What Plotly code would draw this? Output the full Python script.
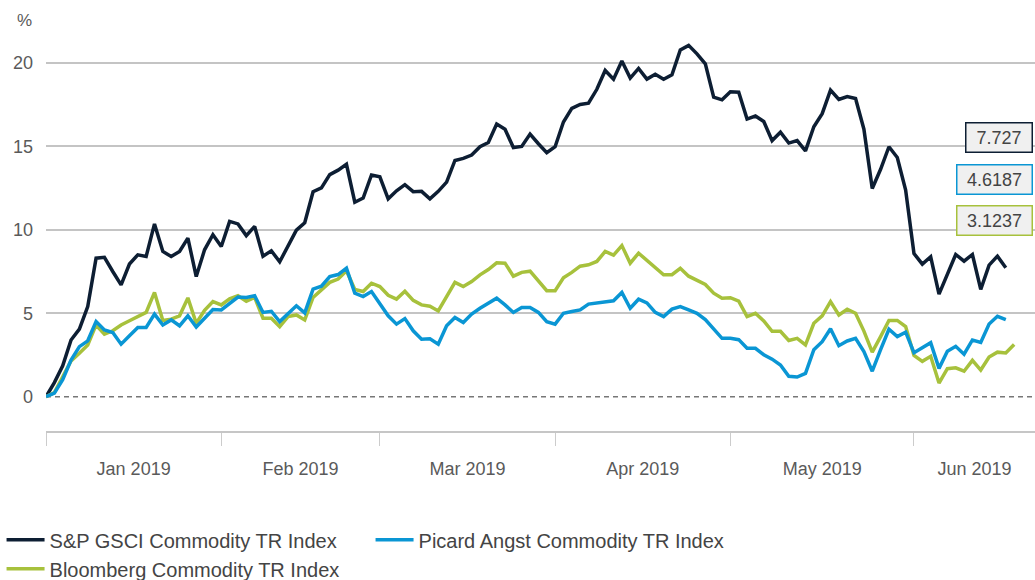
import pandas as pd
import plotly.graph_objects as go

# ---------------- data ----------------
us_holidays = ["2019-01-21", "2019-02-18", "2019-04-19", "2019-05-27"]
dates = pd.bdate_range("2019-01-02", periods=117, freq="C", holidays=us_holidays)

sp_gsci = [0, 0.85, 1.85, 3.4, 4.05, 5.4, 8.3, 8.35, 7.5, 6.7, 7.95, 8.5, 8.4, 10.35, 8.7, 8.4, 8.7, 9.5, 7.2, 8.8,
           9.7, 9.0, 10.5, 10.35, 9.65, 10.2, 8.42, 8.74, 8.08, 8.98, 9.98, 10.42, 12.28, 12.51, 13.3, 13.57, 13.92,
           11.65, 11.9, 13.28, 13.17, 11.85, 12.33, 12.7, 12.28, 12.3, 11.85, 12.3, 12.85, 14.15, 14.27, 14.47, 14.97,
           15.22, 16.33, 16.02, 14.92, 14.99, 15.73, 15.15, 14.62, 14.97, 16.45, 17.27, 17.5, 17.58, 18.41, 19.54,
           19.02, 20.1, 19.08, 19.66, 19.02, 19.31, 19.01, 19.28, 20.76, 21.04, 20.53, 19.93, 17.94, 17.78, 18.26,
           18.24, 16.63, 16.81, 16.48, 15.34, 15.84, 15.19, 15.34, 14.72, 16.17, 16.95, 18.36, 17.8, 17.98, 17.86,
           16.02, 12.47, 13.62, 14.97, 14.33, 12.38, 8.58, 7.94, 8.38, 6.15, 7.39, 8.52, 8.12, 8.52, 6.43, 7.88,
           8.42, 7.727]

picard = [0, 0.22, 1.02, 2.2, 3.0, 3.35, 4.5, 4.0, 3.85, 3.15, 3.65, 4.15, 4.15, 4.95, 4.3, 4.6, 4.25, 4.85, 4.18,
          4.7, 5.22, 5.2, 5.6, 5.97, 5.95, 6.05, 5.05, 5.12, 4.5, 5.0, 5.45, 5.02, 6.45, 6.62, 7.2, 7.32, 7.7, 6.2,
          6.0, 6.3, 5.6, 4.85, 4.35, 4.68, 3.95, 3.45, 3.47, 3.15, 4.25, 4.75, 4.45, 4.95, 5.3, 5.6, 5.9, 5.5, 5.05,
          5.35, 5.35, 5.05, 4.5, 4.35, 5.0, 5.1, 5.2, 5.55, 5.6, 5.7, 5.75, 6.25, 5.3, 5.84, 5.62, 5.05, 4.8, 5.25,
          5.4, 5.2, 5.0, 4.62, 4.08, 3.5, 3.5, 3.42, 2.9, 2.9, 2.52, 2.25, 1.9, 1.23, 1.18, 1.4, 2.82, 3.3, 4.07,
          3.06, 3.34, 3.5, 2.7, 1.53, 2.82, 4.04, 3.6, 3.87, 2.64, 2.92, 3.24, 1.7, 2.72, 3.02, 2.55, 3.4, 3.25,
          4.36, 4.82, 4.6187]

bloomberg = [0, 0.25, 1.2, 2.15, 2.6, 3.1, 4.3, 3.75, 3.95, 4.3, 4.55, 4.8, 5.05, 6.25, 4.57, 4.65, 4.85, 5.92,
             4.4, 5.18, 5.7, 5.5, 5.87, 6.05, 5.72, 5.95, 4.7, 4.7, 4.2, 4.8, 4.9, 4.6, 5.95, 6.4, 6.85, 7.05, 7.55,
             6.42, 6.3, 6.8, 6.6, 6.08, 5.85, 6.32, 5.77, 5.5, 5.42, 5.14, 5.95, 6.85, 6.6, 6.9, 7.3, 7.62, 8.02,
             8.0, 7.22, 7.45, 7.52, 6.95, 6.35, 6.35, 7.12, 7.45, 7.82, 7.9, 8.1, 8.7, 8.48, 9.05, 8.0, 8.6, 8.15,
             7.7, 7.3, 7.31, 7.69, 7.22, 6.97, 6.72, 6.2, 5.9, 5.93, 5.72, 4.8, 5.0, 4.54, 3.92, 3.92, 3.37, 3.5,
             3.1, 4.4, 4.85, 5.7, 4.9, 5.24, 5.0, 3.93, 2.67, 3.6, 4.57, 4.57, 4.2, 2.48, 2.12, 2.42, 0.82, 1.68,
             1.73, 1.53, 2.18, 1.6, 2.38, 2.67, 2.62, 3.1237]

series_names = ["S&P GSCI Commodity TR Index", "Picard Angst Commodity TR Index", "Bloomberg Commodity TR Index"]
y_ticks = [0, 5, 10, 15, 20]

# ---------------- styling ----------------
NAVY, BLUE, GREEN = "#0d1e33", "#0a96d4", "#a7c13c"
FONT = "Liberation Sans, Arial, sans-serif"
TXT = "#5a5a5a"
X_END = 118.5

# month boundaries (index of first business day in each month) and label centres
month_start = []
month_lab = []
for i, d in enumerate(dates):
    if i == 0 or d.month != dates[i - 1].month:
        month_start.append(i)
        month_lab.append(d.strftime("%b %Y"))
edges = month_start + [X_END]
lab_pos = [(edges[k] + edges[k + 1]) / 2 for k in range(len(month_start))]

fig = go.Figure()
traces = [
    (sp_gsci, series_names[0], NAVY, 1),
    (bloomberg, series_names[2], GREEN, 3),
    (picard, series_names[1], BLUE, 2),
]
for vals, name, col, rank in traces:
    fig.add_trace(go.Scatter(
        x=list(range(len(vals))), y=vals, mode="lines", name=name,
        line=dict(color=col, width=3.5), legendrank=rank,
        customdata=[d.strftime("%Y-%m-%d") for d in dates[:len(vals)]],
        hovertemplate="%{customdata}: %{y}<extra>" + name + "</extra>",
    ))

# dashed zero reference line
fig.add_hline(y=0, line=dict(color="#777777", width=1.5, dash="5px,4px"), layer="below")

# last value labels
last_vals = [(sp_gsci[-1], NAVY, 0.713, 59), (picard[-1], BLUE, 0.612, 68), (bloomberg[-1], GREEN, 0.513, 68)]
for v, col, ypos, w in last_vals:
    fig.add_annotation(
        text=f"{v}", xref="paper", yref="paper", x=1, y=ypos, xanchor="right", yanchor="middle",
        xshift=-2, showarrow=False, bgcolor="#f0f0f0", bordercolor=col, borderwidth=1.5, borderpad=3,
        width=w, height=22, font=dict(family=FONT, size=18, color="#444444"),
    )

# "%" unit label
fig.add_annotation(text="%", xref="paper", yref="paper", x=0, y=1, xshift=-22, xanchor="center",
                   yanchor="middle", showarrow=False, font=dict(family=FONT, size=17, color=TXT))

fig.update_layout(
    width=1035, height=580, autosize=False,
    margin=dict(l=46, r=0, t=20, b=149),
    paper_bgcolor="white", plot_bgcolor="white",
    font=dict(family=FONT, size=18, color=TXT),
    showlegend=True,
    legend=dict(
        orientation="h", xref="container", yref="container", x=0.0015, y=0.103,
        xanchor="left", yanchor="top", entrywidth=316, entrywidthmode="pixels", itemwidth=38,
        font=dict(family=FONT, size=20, color="#444444"), bgcolor="rgba(0,0,0,0)",
        tracegroupgap=0, traceorder="normal",
    ),
    xaxis=dict(
        range=[0, X_END], showgrid=False, zeroline=False, showline=True, linecolor="#c6c6c6", linewidth=2,
        tickmode="array", tickvals=lab_pos, ticktext=month_lab, ticks="", ticklabelstandoff=20,
        tickfont=dict(family=FONT, size=18, color=TXT),
        minor=dict(tickmode="array", tickvals=month_start, ticks="outside", ticklen=13,
                   tickcolor="#cccccc", tickwidth=1, showgrid=False),
        fixedrange=True,
    ),
    yaxis=dict(
        range=[-2.05, 22.56], tickmode="array", tickvals=y_ticks, showgrid=True, gridcolor="#c4c4c4",
        gridwidth=1.5, zeroline=True, zerolinecolor="rgba(0,0,0,0)", showline=False, ticks="",
        ticklabelstandoff=12, tickfont=dict(family=FONT, size=18, color=TXT), fixedrange=True,
    ),
)

fig.write_html(
    "out.html",
    config={"displayModeBar": False},
    post_script="document.body.style.margin='0';document.body.style.overflow='hidden';",
)
